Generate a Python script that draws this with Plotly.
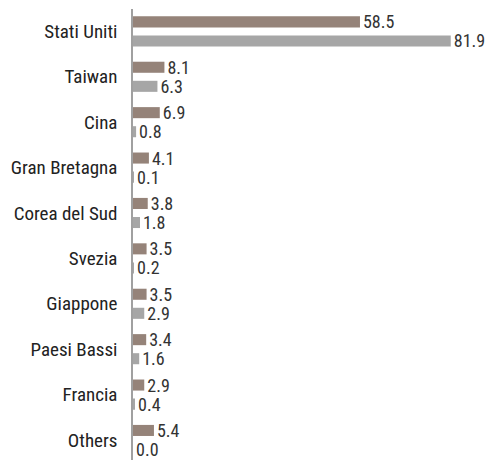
import plotly.graph_objects as go

categories = ["Stati Uniti", "Taiwan", "Cina", "Gran Bretagna", "Corea del Sud",
              "Svezia", "Giappone", "Paesi Bassi", "Francia", "Others"]
series_a = [58.5, 8.1, 6.9, 4.1, 3.8, 3.5, 3.5, 3.4, 2.9, 5.4]
series_b = [81.9, 6.3, 0.8, 0.1, 1.8, 0.2, 2.9, 1.6, 0.4, 0.0]

font_family = "Roboto Condensed, Liberation Sans Narrow, sans-serif"

fig = go.Figure()
fig.add_trace(go.Bar(
    y=categories, x=series_a, orientation="h",
    marker=dict(color="#958379", line=dict(width=0)),
    text=series_a, texttemplate="%{x:.1f}", textposition="outside",
    constraintext="none",
    textfont=dict(size=18, color="#333333", family=font_family),
    cliponaxis=False, showlegend=False,
))
fig.add_trace(go.Bar(
    y=categories, x=series_b, orientation="h",
    marker=dict(color="#a6a6a6", line=dict(width=0)),
    text=series_b, texttemplate="%{x:.1f}", textposition="outside",
    constraintext="none",
    textfont=dict(size=18, color="#333333", family=font_family),
    cliponaxis=False, showlegend=False,
))

fig.update_layout(
    width=488, height=460,
    margin=dict(l=133, r=0, t=9, b=0),
    paper_bgcolor="white", plot_bgcolor="white",
    barmode="group", bargap=0.16, bargroupgap=0.42,
    font=dict(family=font_family, size=18, color="#333333"),
)
fig.update_xaxes(visible=False, range=[0, 91.5])
fig.update_yaxes(
    range=[9.441, -0.493], showline=True, linecolor="#a0a0a0", linewidth=1.5,
    showgrid=False, zeroline=False, ticks="", ticklabelstandoff=10,
    tickfont=dict(size=19, color="#222222", family=font_family),
)

fig.write_html(
    "out.html",
    config={"displayModeBar": False},
    post_script="document.body.style.margin='0';document.body.style.overflow='hidden';",
)
